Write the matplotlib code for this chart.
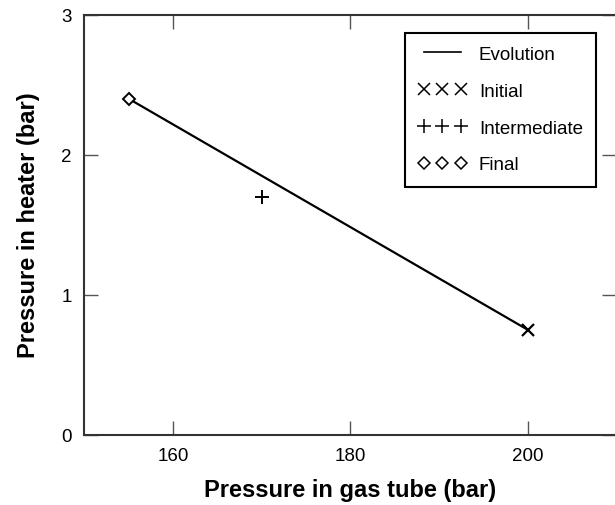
import matplotlib
matplotlib.use("Agg")
import matplotlib.pyplot as plt
from matplotlib.lines import Line2D

plt.rcParams['font.family'] = ['Liberation Sans', 'DejaVu Sans']

# Operating points
evolution_x = [155, 200]
evolution_y = [2.4, 0.75]
initial_x, initial_y = [200], [0.75]
intermediate_x, intermediate_y = [170], [1.7]
final_x, final_y = [155], [2.4]

x_ticks = [160, 180, 200]
y_ticks = [0, 1, 2, 3]

fig = plt.figure(figsize=(6.15, 5.06), dpi=100)
ax = fig.add_axes([0.137, 0.139, 0.865, 0.830])

ax.plot(evolution_x, evolution_y, color='black', lw=1.6)
ax.plot(initial_x, initial_y, ls='none', marker='x', ms=9, mew=1.6, color='black')
ax.plot(intermediate_x, intermediate_y, ls='none', marker='+', ms=9.5, mew=1.4, color='black')
ax.plot(final_x, final_y, ls='none', marker='D', ms=6.5, mew=1.4, mfc='white', color='black')

ax.set_xlim(150, 210)
ax.set_ylim(0, 3)
ax.set_xticks(x_ticks)
ax.set_yticks(y_ticks)
ax.tick_params(direction='in', length=10, width=1, top=True, right=True,
               labelsize=13.5, pad=9, color='#555555')
for s in ax.spines.values():
    s.set_linewidth(1.5)
    s.set_color('#333333')

ax.set_xlabel('Pressure in gas tube (bar)', fontsize=17, fontweight='bold', labelpad=10)
ax.set_ylabel('Pressure in heater (bar)', fontsize=17, fontweight='bold', labelpad=15)

handles = [
    Line2D([], [], color='black', lw=1.2),
    Line2D([], [], ls='none', marker='x', ms=8.5, mew=1.1, color='black'),
    Line2D([], [], ls='none', marker='+', ms=9.5, mew=1.1, color='black'),
    Line2D([], [], ls='none', marker='D', ms=6, mew=1.1, mfc='white', color='black'),
]
labels = ['Evolution', 'Initial', 'Intermediate', 'Final']
leg = ax.legend(handles, labels, numpoints=3, loc='upper right',
                bbox_to_anchor=(0.962, 0.957), fontsize=13.5, fancybox=False,
                edgecolor='black', framealpha=1, borderpad=0.7, labelspacing=1.05,
                handlelength=2.6, handletextpad=0.65, borderaxespad=0)
leg.get_frame().set_linewidth(1.5)

fig.savefig('out.png', dpi=100)
